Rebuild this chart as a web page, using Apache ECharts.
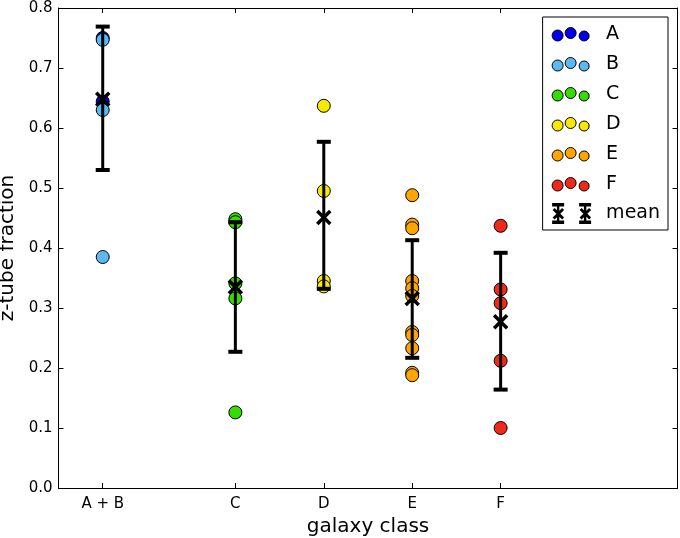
<!DOCTYPE html>
<html>
<head>
<meta charset="utf-8">
<script src="https://cdn.jsdelivr.net/npm/echarts@6/dist/echarts.min.js"></script>
<style>
	html, body {margin: 0; padding: 0; background: #fff;}
	#main {width: 680px; height: 538px;}
</style>
</head>
<body>
<div id="main"></div>
<script type="text/javascript">
	// class labels and where they sit on the x axis
	var classes = ['A + B', 'C', 'D', 'E', 'F'];
	var classPos = [0, 1.5, 2.5, 3.5, 4.5];

	// z-tube fraction of each galaxy, per class
	var valuesA = [0.750, 0.644];
	var valuesB = [0.747, 0.630, 0.385];
	var valuesC = [0.448, 0.443, 0.341, 0.316, 0.126];
	var valuesD = [0.637, 0.495, 0.345, 0.336];
	var valuesE = [0.488, 0.439, 0.433, 0.345, 0.333, 0.320, 0.260, 0.255, 0.233, 0.192, 0.188];
	var valuesF = [0.437, 0.331, 0.308, 0.212, 0.100];

	// mean and error bar ends, one per class label
	var means = [0.648, 0.335, 0.451, 0.316, 0.277];
	var errLow = [0.530, 0.227, 0.332, 0.217, 0.164];
	var errHigh = [0.769, 0.443, 0.577, 0.413, 0.392];

	var yTicks = [0, 0.1, 0.2, 0.3, 0.4, 0.5, 0.6, 0.7, 0.8];

	var font = 'DejaVu Sans';
	// icons live in a 40x21 box; the empty corner points only pin that box
	var box = 'M0,0 L0,0 M40,21 L40,21 ';
	var dots = 'path://' + box +
		'M1,12 A5.5,5.5 0 1,0 12,12 A5.5,5.5 0 1,0 1,12 Z ' +
		'M14,9.5 A5.5,5.5 0 1,0 25,9.5 A5.5,5.5 0 1,0 14,9.5 Z ' +
		'M28,12.5 A5,5 0 1,0 38,12.5 A5,5 0 1,0 28,12.5 Z';
	function errIcon(o){
		return 'M' + (o+1) + ',0 L' + (o+13) + ',0 L' + (o+13) + ',3.5 L' + (o+1) + ',3.5 Z ' +
			'M' + (o+1) + ',17.5 L' + (o+13) + ',17.5 L' + (o+13) + ',21 L' + (o+1) + ',21 Z ' +
			'M' + (o+5.8) + ',0 L' + (o+8.2) + ',0 L' + (o+8.2) + ',21 L' + (o+5.8) + ',21 Z ' +
			'M' + (o+3.5) + ',5 L' + (o+13) + ',14.5 L' + (o+11) + ',16.5 L' + (o+1.5) + ',7 Z ' +
			'M' + (o+11) + ',5 L' + (o+13) + ',7 L' + (o+3.5) + ',16.5 L' + (o+1.5) + ',14.5 Z ';
	}
	var meanIcon = 'path://' + box + errIcon(0) + errIcon(27);

	function pts(pos, vals){
		return vals.map(function(v){ return [pos, v]; });
	}
	function dotSeries(name, color, data){
		return {
			name: name,
			type: 'scatter',
			data: data,
			symbol: 'circle',
			symbolSize: 13,
			itemStyle: {color: color, borderColor: '#000', borderWidth: 1, opacity: 1},
			z: 2
		};
	}
	function dotLegend(name){
		return {name: name, icon: dots, itemStyle: {borderColor: '#000', borderWidth: 1}};
	}

	var meanData = classPos.map(function(p, i){ return [p, means[i], errLow[i], errHigh[i]]; });

	var myChart = echarts.init(document.getElementById('main'));
	var option = {
		animation: false,
		backgroundColor: '#fff',
		grid: {left: 58.5, right: 2.5, top: 8, bottom: 50, containLabel: false, outerBoundsMode: 'none'},
		legend: {
			orient: 'vertical',
			right: 12,
			top: 17,
			padding: [6, 8, 6, 8],
			itemGap: 8,
			itemWidth: 40,
			itemHeight: 21,
			borderColor: '#000',
			borderWidth: 1,
			textStyle: {fontFamily: font, fontSize: 19, color: '#000', padding: [0, 0, 0, 10]},
			data: [
				dotLegend('A'), dotLegend('B'), dotLegend('C'),
				dotLegend('D'), dotLegend('E'), dotLegend('F'),
				{name: 'mean', icon: meanIcon, itemStyle: {color: '#000', borderWidth: 0}}
			]
		},
		xAxis: [{
			type: 'value',
			min: -0.5,
			max: 6.5,
			name: 'galaxy class',
			nameLocation: 'middle',
			nameGap: 28,
			nameTextStyle: {fontFamily: font, fontSize: 20, color: '#000'},
			axisLine: {show: true, onZero: false, lineStyle: {color: '#000', width: 1}},
			axisTick: {show: true, inside: true, length: 5, customValues: classPos, lineStyle: {color: '#000'}},
			axisLabel: {
				customValues: classPos,
				fontFamily: font, fontSize: 15, color: '#000', margin: 9,
				formatter: function(v){
					var i = classPos.indexOf(v);
					return i < 0 ? '' : classes[i];
				}
			},
			splitLine: {show: false}
		},{
			type: 'value',
			position: 'top',
			min: -0.5,
			max: 6.5,
			axisLine: {show: true, onZero: false, lineStyle: {color: '#000', width: 1}},
			axisTick: {show: true, inside: true, length: 5, customValues: classPos, lineStyle: {color: '#000'}},
			axisLabel: {show: false},
			splitLine: {show: false}
		}],
		yAxis: [{
			type: 'value',
			min: 0,
			max: 0.8,
			interval: 0.1,
			name: 'z-tube fraction',
			nameLocation: 'middle',
			nameGap: 38,
			nameTextStyle: {fontFamily: font, fontSize: 20, color: '#000'},
			axisLine: {show: true, onZero: false, lineStyle: {color: '#000', width: 1}},
			axisTick: {show: true, inside: true, length: 5, lineStyle: {color: '#000'}},
			axisLabel: {
				customValues: yTicks,
				fontFamily: font, fontSize: 15, color: '#000', margin: 6,
				formatter: function(v){ return v.toFixed(1); }
			},
			splitLine: {show: false}
		},{
			type: 'value',
			position: 'right',
			min: 0,
			max: 0.8,
			interval: 0.1,
			axisLine: {show: true, onZero: false, lineStyle: {color: '#000', width: 1}},
			axisTick: {show: true, inside: true, length: 5, lineStyle: {color: '#000'}},
			axisLabel: {show: false},
			splitLine: {show: false}
		}],
		series: [
			dotSeries('A', '#0000ee', pts(classPos[0], valuesA)),
			dotSeries('B', '#5ab8f2', pts(classPos[0], valuesB)),
			dotSeries('C', '#33dd00', pts(classPos[1], valuesC)),
			dotSeries('D', '#f7ea00', pts(classPos[2], valuesD)),
			dotSeries('E', '#ffa500', pts(classPos[3], valuesE)),
			dotSeries('F', '#f02a1a', pts(classPos[4], valuesF)),
			{
				name: 'mean',
				type: 'custom',
				data: meanData,
				itemStyle: {color: '#000'},
				z: 5,
				encode: {x: 0, y: [1, 2, 3]},
				renderItem: function(params, api){
					var pm = api.coord([api.value(0), api.value(1)]);
					var pl = api.coord([api.value(0), api.value(2)]);
					var ph = api.coord([api.value(0), api.value(3)]);
					var x = pm[0], c = 7, s = 6.5;
					return {
						type: 'group',
						children: [
							{type: 'line', shape: {x1: x, y1: pl[1], x2: x, y2: ph[1]}, style: {stroke: '#000', lineWidth: 3}},
							{type: 'line', shape: {x1: x - c, y1: pl[1], x2: x + c, y2: pl[1]}, style: {stroke: '#000', lineWidth: 4}},
							{type: 'line', shape: {x1: x - c, y1: ph[1], x2: x + c, y2: ph[1]}, style: {stroke: '#000', lineWidth: 4}},
							{type: 'line', shape: {x1: x - s, y1: pm[1] - s, x2: x + s, y2: pm[1] + s}, style: {stroke: '#000', lineWidth: 3.5}},
							{type: 'line', shape: {x1: x - s, y1: pm[1] + s, x2: x + s, y2: pm[1] - s}, style: {stroke: '#000', lineWidth: 3.5}}
						]
					};
				}
			}
		]
	};
	myChart.setOption(option);
</script>
</body>
</html>
